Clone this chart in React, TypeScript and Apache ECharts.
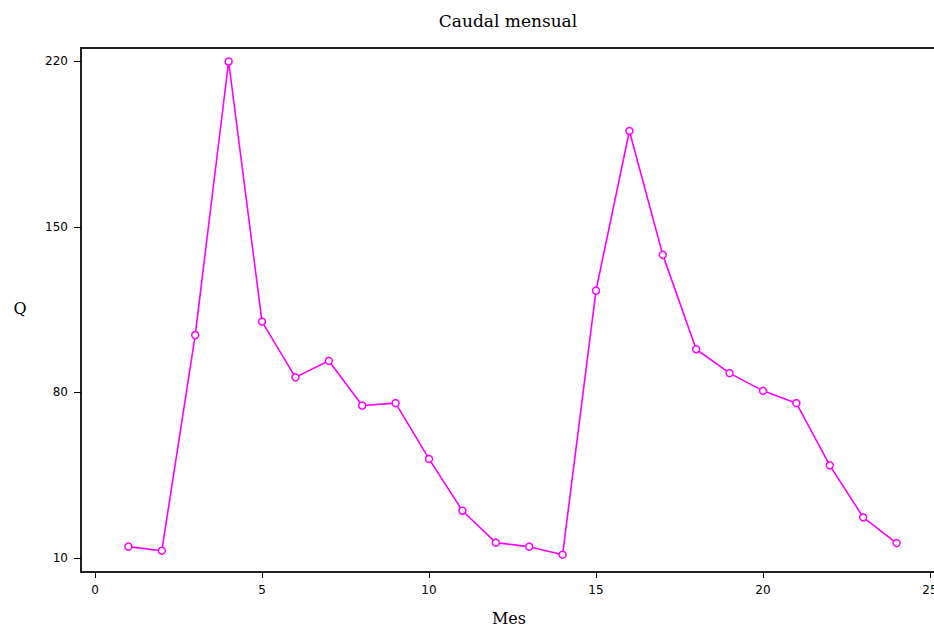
import React, { useEffect, useRef } from "react";
import * as echarts from "echarts";

const months = [1, 2, 3, 4, 5, 6, 7, 8, 9, 10, 11, 12, 13, 14, 15, 16, 17, 18, 19, 20, 21, 22, 23, 24];
const caudal = [14.8, 13.1, 104.3, 220, 110.0, 86.4, 93.4, 74.5, 75.5, 51.9, 30.0, 16.5, 14.8, 11.4, 123.1, 190.6, 138.2, 98.3, 88.2, 80.7, 75.5, 49.2, 27.2, 16.3];
const xTicks = [0, 5, 10, 15, 20, 25];
const yTicks = [10, 80, 150, 220];
const titleText = "Caudal mensual";
const xName = "Mes";
const yName = "Q";

export default function App() {
  const ref = useRef<HTMLDivElement>(null);
  useEffect(() => {
    if (!ref.current) return;
    const chart = echarts.init(ref.current, null, { renderer: "svg" });
    const tickFont = { color: "#000", fontFamily: "DejaVu Sans", fontSize: 12 };
    chart.setOption({
      animation: false,
      backgroundColor: "#fff",
      grid: {
        show: true,
        left: 81,
        top: 48,
        bottom: 56,
        right: -10,
        borderColor: "#222",
        borderWidth: 2,
        backgroundColor: "transparent",
        containLabel: false,
        outerBoundsMode: "none",
      },
      graphic: [
        {
          type: "text",
          x: 508,
          y: 21,
          style: { text: titleText, font: "17px 'DejaVu Serif'", fill: "#000", align: "center", verticalAlign: "middle" },
        },
        {
          type: "text",
          x: 509,
          y: 618,
          style: { text: xName, font: "16px 'DejaVu Serif'", fill: "#000", align: "center", verticalAlign: "middle" },
        },
        {
          type: "text",
          x: 20,
          y: 308,
          style: { text: yName, font: "16px 'DejaVu Serif'", fill: "#000", align: "center", verticalAlign: "middle" },
        },
      ],
      xAxis: {
        type: "value",
        min: -0.42,
        max: 25.42,
        splitLine: { show: false },
        axisLine: { show: false, onZero: false },
        axisTick: { show: true, length: 6, lineStyle: { color: "#000", width: 1 }, customValues: xTicks },
        axisLabel: { ...tickFont, margin: 12, customValues: xTicks, showMinLabel: true, showMaxLabel: true },
      },
      yAxis: {
        type: "value",
        min: 4.08,
        max: 225.7,
        splitLine: { show: false },
        axisLine: { show: false, onZero: false },
        axisTick: { show: true, length: 7, lineStyle: { color: "#000", width: 1 }, customValues: yTicks },
        axisLabel: { ...tickFont, margin: 13, customValues: yTicks, showMinLabel: true, showMaxLabel: true },
      },
      series: [
        {
          type: "line",
          data: months.map((m, i) => [m, caudal[i]]),
          symbol: "circle",
          symbolSize: 7,
          showAllSymbol: true,
          lineStyle: { color: "#ff00ff", width: 1.6 },
          itemStyle: { color: "#fff", borderColor: "#ff00ff", borderWidth: 1.5 },
          clip: false,
        },
      ],
    });
    return () => chart.dispose();
  }, []);
  return (
    <div style={{ position: "fixed", left: 0, top: 0, width: 934, height: 628, background: "#fff", overflow: "hidden" }}>
      <div ref={ref} style={{ width: 934, height: 628 }} />
    </div>
  );
}
